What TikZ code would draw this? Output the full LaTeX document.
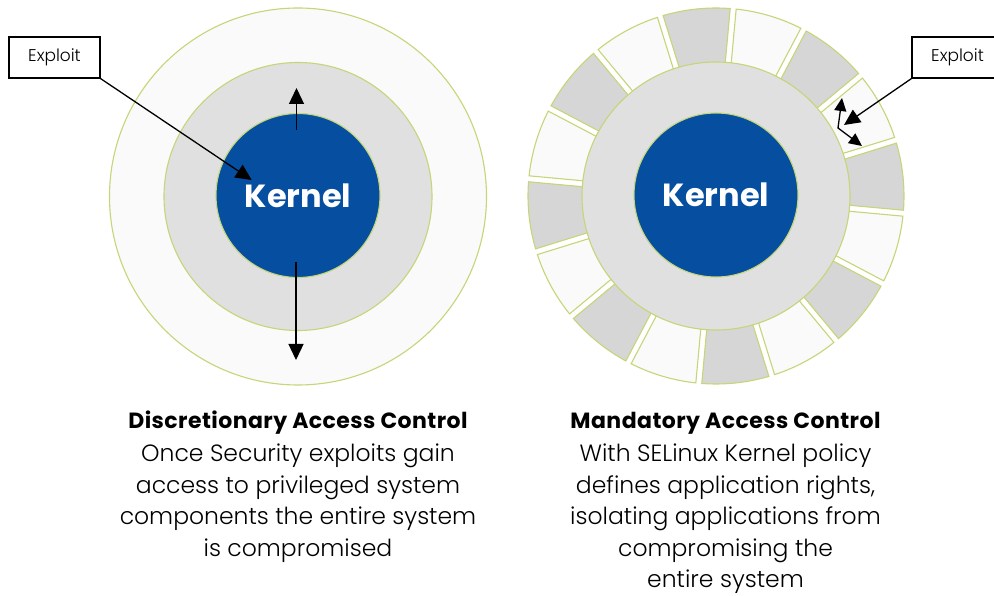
\documentclass[tikz,border=0pt]{standalone}
\usepackage{fontspec}
\setmainfont{Poppins}
\newfontfamily\lightfont{Poppins Light}
\usetikzlibrary{arrows.meta}
\definecolor{kblue}{RGB}{5,78,160}
\definecolor{ringgreen}{RGB}{196,214,120}
\definecolor{midgrey}{RGB}{225,224,225}
\definecolor{outerwhite}{RGB}{250,250,250}
\definecolor{seggrey}{RGB}{214,214,214}
\begin{document}
\begin{tikzpicture}[
  ring/.style={circle, draw=ringgreen, line width=1.1pt, inner sep=0pt},
  kernelnode/.style={ring, fill=kblue, minimum size=164pt, text=white,
                     font=\fontsize{32}{32}\selectfont\bfseries},
  exploitbox/.style={draw=black, line width=1.2pt, fill=white, inner sep=0pt,
                     minimum width=91pt, minimum height=41pt,
                     font=\lightfont\fontsize{17}{17}\selectfont},
  arr/.style={line width=1.3pt, -{Triangle[length=16pt,width=15pt]}},
  smallarr/.style={line width=1.3pt, {Triangle[length=13pt,width=12pt]}-{Triangle[length=13pt,width=12pt]}},
  segment/.style={draw=ringgreen, line width=1.1pt},
  titletext/.style={anchor=base, inner sep=0pt,
                    font=\fontsize{22}{22}\selectfont\bfseries\addfontfeatures{LetterSpace=2}},
  bodytext/.style={anchor=base, inner sep=0pt, font=\lightfont\fontsize{23.5}{23.5}\selectfont},
]
\clip (0pt,0pt) rectangle (994pt,595pt);
\useasboundingbox (0pt,0pt) rectangle (994pt,595pt);

% ---------------- Left: DAC ----------------
\node[ring, fill=outerwhite, minimum size=377pt] (outerL) at (298pt,398.5pt) {};
\node[ring, fill=midgrey, minimum size=268pt] (midL) at (298pt,398.5pt) {};
\node[kernelnode] (kernelL) at (298pt,399.5pt) {Kernel};

\node[exploitbox] (exploitL) at (54.5pt,537.5pt) {Exploit};
\coordinate (hitL) at (251.7pt,415pt);
\draw[arr] (exploitL.south east) -- (hitL);

\coordinate (upS) at (296.5pt,465pt);
\coordinate (upE) at (296.5pt,507pt);
\draw[arr] (upS) -- (upE);
\coordinate (dnS) at (296pt,333pt);
\coordinate (dnE) at (296pt,235pt);
\draw[arr] (dnS) -- (dnE);

% ---------------- Right: MAC ----------------
\begin{scope}[shift={(716pt,399pt)}]
\foreach \k in {0,...,15} {
  \pgfmathsetmacro\a{96-22.5*\k}
  \pgfmathtruncatemacro\odd{mod(\k,2)}
  \ifnum\odd=0 \def\segfill{seggrey}\else\def\segfill{outerwhite}\fi
  \filldraw[segment, fill=\segfill] (\a-9.89:126pt) -- (\a-10.34:188pt)
     arc[start angle=\a-10.34, end angle=\a+10.34, radius=188pt]
     -- (\a+9.89:126pt) -- cycle;
}
\end{scope}
\node[ring, fill=midgrey, minimum size=268pt] (midR) at (716pt,399pt) {};
\node[kernelnode] (kernelR) at (716pt,400pt) {Kernel};

\node[exploitbox] (exploitR) at (957.5pt,537.5pt) {Exploit};
\coordinate (hitR) at (844pt,470pt);
\draw[arr] (exploitR.south west) -- (hitR);

\coordinate (sa1) at (842pt,497pt);
\coordinate (sa2) at (838pt,467pt);
\coordinate (sa3) at (862pt,449pt);
\draw[smallarr] (sa1) -- (sa2) -- (sa3);

% ---------------- Texts ----------------
\node[titletext] (dacTitle) at (298pt,166pt) {Discretionary Access Control};
\node[bodytext] (dac1) at (298pt,133.5pt) {Once Security exploits gain};
\node[bodytext] (dac2) at (298pt,102pt) {access to privileged system};
\node[bodytext] (dac3) at (298pt,70.5pt) {components the entire system};
\node[bodytext] (dac4) at (298pt,39pt) {is compromised};

\node[titletext] (macTitle) at (725.5pt,166pt) {Mandatory Access Control};
\node[bodytext] (mac1) at (725.5pt,133.5pt) {With SELinux Kernel policy};
\node[bodytext] (mac2) at (725.5pt,102pt) {defines application rights,};
\node[bodytext] (mac3) at (725.5pt,70.5pt) {isolating applications from};
\node[bodytext] (mac4) at (725.5pt,39pt) {compromising the};
\node[bodytext] (mac5) at (725.5pt,7.5pt) {entire system};
\end{tikzpicture}
\end{document}
